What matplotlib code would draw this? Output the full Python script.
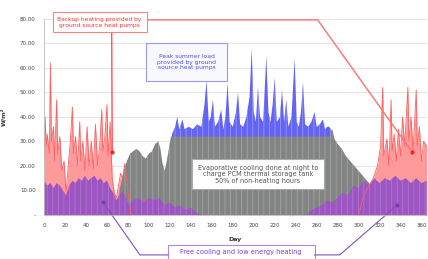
import matplotlib.pyplot as plt
from matplotlib.patches import Rectangle

# backup heating (red), winter start of year: (day, W/m2)
heat_a_day = [0, 1, 2, 3, 5, 6, 7, 9, 10, 12, 13, 15, 17, 19, 21, 23, 25, 27, 28, 30,
              32, 34, 35, 37, 39, 41, 43, 45, 47, 49, 51, 53, 55, 56, 58, 60, 61, 63,
              65, 67, 69, 71, 73, 75, 77, 79, 81, 83]
heat_a_val = [24, 40, 28, 33, 25, 62, 30, 36, 22, 47, 25, 32, 18, 22, 9, 20, 30, 44, 25, 32,
              20, 38, 22, 30, 18, 36, 20, 30, 19, 37, 20, 28, 43, 26, 32, 45, 24, 38,
              15, 9, 7, 12, 17, 15, 21, 14, 6, 0]

# backup heating (red), winter end of year
heat_b_day = [300, 305, 310, 314, 318, 321, 323, 324, 327, 329, 331, 332, 334, 336, 338,
              340, 342, 344, 347, 348, 350, 352, 355, 356, 358, 360, 362, 365]
heat_b_val = [0, 8, 12, 15, 20, 28, 52, 24, 31, 20, 47, 26, 33, 22, 35,
              24, 40, 28, 52, 30, 40, 26, 51, 28, 36, 22, 30, 28]

# peak summer load (blue)
peak_day = [120, 122, 125, 127, 129, 132, 134, 138, 142, 146, 150, 153, 155, 157, 159,
            161, 163, 166, 169, 171, 173, 175, 177, 180, 183, 185, 187, 190, 193, 196,
            198, 200, 202, 204, 206, 209, 212, 214, 216, 218, 220, 222, 225, 227, 229,
            231, 233, 236, 239, 241, 243, 245, 247, 249, 252, 255, 258, 260, 263, 266,
            268, 270, 272, 275, 278]
peak_val = [0, 33, 36, 40, 35, 39, 35, 36, 35, 37, 36, 45, 55, 38, 40,
            47, 36, 38, 43, 35, 40, 54, 38, 36, 42, 50, 37, 36, 40, 48,
            68, 42, 38, 52, 40, 38, 65, 42, 38, 45, 56, 38, 40, 51, 38,
            47, 36, 40, 64, 38, 36, 42, 54, 37, 36, 38, 42, 36, 37, 39,
            35, 36, 36, 34, 0]

# evaporative cooling (grey)
evap_day = [66, 70, 73, 76, 79, 82, 85, 88, 91, 94, 97, 100, 103, 106, 109, 111, 113,
            115, 117, 119, 121, 273, 275, 277, 280, 284, 288, 292, 296, 300, 304, 308,
            312, 316, 320]
evap_val = [0, 6, 12, 18, 22, 25, 26, 27, 26, 24, 23, 25, 26, 29, 30, 27, 21,
            18, 22, 27, 32, 32, 35, 31, 29, 27, 24, 22, 20, 18, 16, 14,
            12, 8, 0]

# free cooling and low energy heating (purple)
free_day = [0, 3, 6, 9, 12, 15, 18, 21, 24, 27, 30, 33, 36, 39, 42, 45, 48, 51, 54, 57,
            60, 63, 66, 69, 72, 75, 78, 81, 85, 90, 95, 100, 105, 110, 115, 120, 125,
            130, 135, 140, 145, 150, 250, 255, 260, 265, 270, 275, 280, 285, 290, 295,
            300, 305, 310, 315, 320, 325, 330, 335, 340, 345, 350, 355, 360, 365]
free_val = [14, 12, 13, 11, 13, 12, 10, 8, 12, 14, 13, 15, 14, 16, 14, 15, 16, 14, 15, 13,
            14, 11, 9, 6, 8, 10, 7, 4, 6, 7, 5, 7, 6, 7, 4, 5, 3,
            4, 2, 3, 1, 0, 0, 2, 3, 4, 6, 5, 7, 9, 8, 12,
            11, 14, 12, 15, 13, 15, 14, 16, 14, 15, 13, 15, 13, 14]

y_ticks = [0, 10, 20, 30, 40, 50, 60, 70, 80]
y_tick_labels = ['-', '10.00', '20.00', '30.00', '40.00', '50.00', '60.00', '70.00', '80.00']
x_ticks = list(range(0, 361, 20))

plt.rcParams['hatch.linewidth'] = 0.5

fig = plt.figure(figsize=(4.28, 2.59), dpi=100)
ax = fig.add_axes([0.103, 0.170, 0.894, 0.757])

ax.set_axisbelow(True)
ax.grid(axis='y', color='#d9d9d9', lw=0.5)

# red heating behind everything
for d, v in [(heat_a_day, heat_a_val), (heat_b_day, heat_b_val)]:
    ax.fill_between(d, 0, v, color='#ff9a9a', lw=0)
    ax.plot(d, v, color='#ff6060', lw=0.6)

ax.fill_between(peak_day, 0, peak_val, facecolor='#6464f4', edgecolor='#a0a0f8',
                hatch='|||', lw=0)
ax.fill_between(evap_day, 0, evap_val, facecolor='#838585', edgecolor='#a8a8a8',
                hatch='|||', lw=0)
ax.fill_between(free_day, 0, free_val, facecolor='#9d55c2', edgecolor='#b27cd2',
                hatch='|||', lw=0)

ax.set_xlim(0, 365)
ax.set_ylim(0, 80)
ax.set_yticks(y_ticks)
ax.set_yticklabels(y_tick_labels)
ax.set_xticks(x_ticks)
ax.tick_params(labelsize=4, length=0, pad=6, colors='#444444')
for s in ['top', 'right']:
    ax.spines[s].set_visible(False)
for s in ['left', 'bottom']:
    ax.spines[s].set_color('#bbbbbb')
    ax.spines[s].set_linewidth(0.6)

ax.set_xlabel('Day', fontsize=4.5, fontweight='bold', labelpad=6, color='#333333')
ax.set_ylabel('W/m²', fontsize=4.5, fontweight='bold', labelpad=10, color='#333333')

# annotations
ax.text(53, 78.6, 'Backup heating provided by\nground source heat pumps', fontsize=4.3,
        color='#ff3030', ha='center', va='center', linespacing=1.1, clip_on=False,
        bbox=dict(boxstyle='square,pad=0.8', fc='white', ec='#ff8080', lw=0.8))
ax.plot([64.5, 65], [74.3, 25.7], color='#ff5050', lw=1.0, clip_on=False)
ax.plot([65], [25.7], 'o', color='#ff2020', ms=2)
ax.plot([97, 261, 351], [79.6, 79.6, 25.7], color='#ff7070', lw=1.0, clip_on=False)
ax.plot([351], [25.7], 'o', color='#ff2020', ms=2)

ax.text(136, 62.4, 'Peak summer load\nprovided by ground\nsource heat pumps', fontsize=4.3,
        color='#5050f0', ha='center', va='center', linespacing=1.15,
        bbox=dict(boxstyle='square,pad=1.8', fc='#f8f8ff', ec='#9a9ae8', lw=0.8))

ax.text(204, 16.7, 'Evaporative cooling done at night to\ncharge PCM thermal storage tank\n50% of non-heating hours',
        fontsize=4.7, color='#555555', ha='center', va='center', linespacing=1.1,
        bbox=dict(boxstyle='square,pad=0.9', fc='white', ec='#aaaaaa', lw=0.8))

# bottom box runs off the lower edge of the picture, as in the original
ax.add_patch(Rectangle((118, -22), 140, 9.8, fc='white', ec='#b088e0', lw=0.8,
                       clip_on=False))
ax.text(188, -15.3, 'Free cooling and low energy heating', fontsize=4.8,
        color='#8040c0', ha='center', va='center', clip_on=False)
ax.plot([118, 91.4, 56], [-16.3, -16.3, 5.3], color='#8050c8', lw=0.8, clip_on=False)
ax.plot([258, 282, 337], [-16.3, -16.3, 4.1], color='#8050c8', lw=0.8, clip_on=False)
ax.plot([56, 337], [5.3, 4.1], 'o', color='#7040b0', ms=1.8)

fig.savefig('out.png', dpi=100)
